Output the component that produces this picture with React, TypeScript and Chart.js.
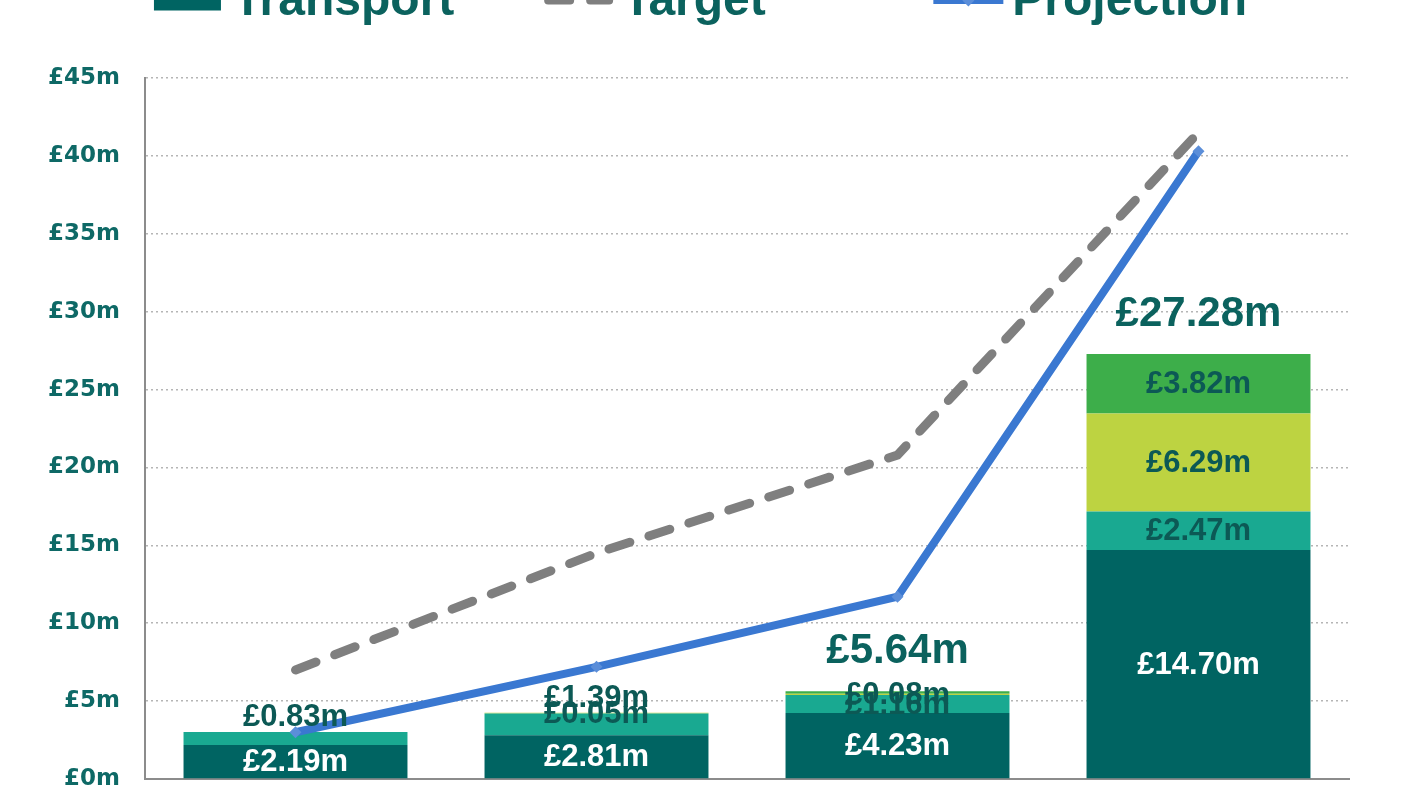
import React, { useEffect, useRef } from 'react';
import { Chart, registerables } from 'chart.js';

Chart.register(...registerables);

// ---------- data ----------
const categories = ['2021/22', '2022/23', '2023/24', '2024/25'];
const transport = [2.19, 2.81, 4.23, 14.7];
const series2 = [0.83, 1.39, 1.16, 2.47];
const series3 = [0, 0.05, 0.08, 6.29];
const series4 = [0, 0, 0.17, 3.82];
const target = [7.0, 14.5, 20.8, 41.5];
const projection = [3.0, 7.2, 11.7, 40.3];
const yTickValues = [0, 5, 10, 15, 20, 25, 30, 35, 40, 45];
const showTotal = [false, false, true, true];
const legendLabels = ['Transport', 'Target', 'Projection'];

// label placement per segment (style, not data)
const place1 = ['center', 'center', 'center', 'center'];
const place2 = ['above', 'above', 'center', 'center'];
const place3 = ['center', 'center', 'center', 'center'];
const place4 = ['none', 'none', 'none', 'center'];

const TEXT_TEAL = '#0b625e';
const LABEL_DARK = '#0c5955';
const FONT = '"Liberation Sans", Arial, sans-serif';

const fmt = (v: number) => '£' + v.toFixed(2) + 'm';

const labelPlugin = {
  id: 'segLabels',
  afterDraw(chart: any) {
    const ctx = chart.ctx;
    ctx.save();
    ctx.textAlign = 'center';
    ctx.textBaseline = 'middle';
    chart.data.datasets.forEach((ds: any, di: number) => {
      if (ds.type !== 'bar') return;
      const meta = chart.getDatasetMeta(di);
      meta.data.forEach((el: any, i: number) => {
        const v = ds.data[i];
        const mode = ds.labelPlace ? ds.labelPlace[i] : 'center';
        if (!v || mode === 'none') return;
        const p = el.getProps(['x', 'y', 'base'], true);
        const top = Math.min(p.y, p.base);
        const bottom = Math.max(p.y, p.base);
        const ly = mode === 'above' ? top - 15 : (top + bottom) / 2 + 1;
        ctx.font = 'bold 31px ' + FONT;
        ctx.fillStyle = ds.labelColor;
        ctx.fillText(fmt(v), p.x, ly);
      });
    });
    // totals
    const yScale = chart.scales.y;
    const firstMeta = chart.getDatasetMeta(0);
    categories.forEach((_, i) => {
      if (!showTotal[i]) return;
      const total = transport[i] + series2[i] + series3[i] + series4[i];
      const yTop = yScale.getPixelForValue(total);
      const x = firstMeta.data[i].x;
      ctx.font = 'bold 42px ' + FONT;
      ctx.fillStyle = TEXT_TEAL;
      ctx.fillText(fmt(total), x, yTop - 40);
    });
    ctx.restore();
  },
};

const legendPlugin = {
  id: 'topLegend',
  afterDraw(chart: any) {
    const ctx = chart.ctx;
    ctx.save();
    ctx.font = 'bold 48px ' + FONT;
    const iconW = 70;
    const gap = 9;
    const baseline = 54.5;
    const iconY = 40.5;
    const items = legendLabels.map((l) => {
      const ds = chart.data.datasets.find((d: any) => d.label === l);
      return { ds, label: l, w: iconW + gap + ctx.measureText(l).width };
    });
    const maxW = Math.max(...items.map((it) => it.w));
    const colW = maxW + 76;
    const totalW = colW * (items.length - 1) + items[items.length - 1].w;
    let x = chart.width / 2 - totalW / 2;
    items.forEach((it) => {
      const ds = it.ds;
      if (ds.type === 'bar') {
        ctx.fillStyle = ds.backgroundColor;
        ctx.fillRect(x, iconY - 14, iconW - 3, 24);
      } else {
        ctx.save();
        ctx.strokeStyle = ds.borderColor;
        ctx.lineWidth = ds.borderWidth - 1;
        ctx.lineCap = ds.borderCapStyle || 'butt';
        if (ds.borderDash) ctx.setLineDash(ds.borderDash);
        const inset = ds.borderCapStyle === 'round' ? ds.borderWidth / 2 : 0;
        ctx.beginPath();
        ctx.moveTo(x + inset, iconY);
        ctx.lineTo(x + iconW - inset, iconY);
        ctx.stroke();
        ctx.restore();
        if (ds.pointRadius) {
          const cx = x + iconW / 2;
          const r = ds.pointRadius;
          ctx.fillStyle = ds.pointBackgroundColor;
          ctx.beginPath();
          ctx.moveTo(cx, iconY - r);
          ctx.lineTo(cx + r, iconY);
          ctx.lineTo(cx, iconY + r);
          ctx.lineTo(cx - r, iconY);
          ctx.closePath();
          ctx.fill();
        }
      }
      ctx.fillStyle = TEXT_TEAL;
      ctx.textAlign = 'left';
      ctx.textBaseline = 'alphabetic';
      ctx.fillText(it.label, x + iconW + gap, baseline);
      x += colW;
    });
    ctx.restore();
  },
};

export default function App() {
  const canvasRef = useRef<HTMLCanvasElement | null>(null);

  useEffect(() => {
    if (!canvasRef.current) return;
    const chart = new Chart(canvasRef.current, {
      type: 'bar',
      data: {
        labels: categories,
        datasets: [
          {
            type: 'bar',
            label: 'Transport',
            data: transport,
            backgroundColor: '#006462',
            labelColor: '#ffffff',
            labelPlace: place1,
            stack: 'bars',
            order: 1,
          } as any,
          {
            type: 'bar',
            label: 'Active travel',
            data: series2,
            backgroundColor: '#19a991',
            labelColor: LABEL_DARK,
            labelPlace: place2,
            stack: 'bars',
            order: 1,
          } as any,
          {
            type: 'bar',
            label: 'Public transport',
            data: series3,
            backgroundColor: '#bdd341',
            labelColor: LABEL_DARK,
            labelPlace: place3,
            stack: 'bars',
            order: 1,
          } as any,
          {
            type: 'bar',
            label: 'Other',
            data: series4,
            backgroundColor: '#3dae4a',
            labelColor: LABEL_DARK,
            labelPlace: place4,
            stack: 'bars',
            order: 1,
          } as any,
          {
            type: 'line',
            label: 'Target',
            data: target,
            borderColor: '#7f7f7f',
            borderWidth: 9,
            borderDash: [22, 20],
            borderCapStyle: 'round',
            pointRadius: 0,
            tension: 0,
            fill: false,
            stack: 'target',
            order: 0,
          } as any,
          {
            type: 'line',
            label: 'Projection',
            data: projection,
            borderColor: '#3a78d1',
            borderWidth: 8,
            pointStyle: 'rectRot',
            pointRadius: 6,
            pointBackgroundColor: '#5b8ed9',
            pointBorderWidth: 0,
            tension: 0,
            fill: false,
            stack: 'projection',
            order: 0,
          } as any,
        ],
      },
      options: {
        animation: false,
        responsive: true,
        maintainAspectRatio: false,
        layout: { padding: { top: 118, left: 0, right: 52, bottom: 21 } },
        datasets: {
          bar: { barPercentage: 0.744, categoryPercentage: 1 },
        },
        plugins: {
          legend: { display: false },
          tooltip: { enabled: false },
        },
        scales: {
          x: {
            stacked: true,
            grid: { display: false, drawTicks: false },
            border: { display: true, color: '#8c8c8c', width: 2 },
            ticks: {
              color: TEXT_TEAL,
              font: { family: FONT, size: 24, weight: 'bold' },
              padding: 12,
            },
            afterFit: (scale: any) => {
              scale.height = 60;
            },
          },
          y: {
            stacked: true,
            min: 0,
            max: 45,
            afterBuildTicks: (scale: any) => {
              scale.ticks = yTickValues.map((v) => ({ value: v }));
            },
            grid: { color: '#b5b5b5', lineWidth: 1.5, drawTicks: false },
            border: { display: true, color: '#8c8c8c', width: 2, dash: [2, 3] },
            ticks: {
              color: '#0e6966',
              font: { family: '"DejaVu Sans", Verdana, sans-serif', size: 23, weight: 'bold' },
              padding: 25,
              callback: (v: any) => '£' + v + 'm',
            },
            afterFit: (scale: any) => {
              scale.width = 145;
            },
          },
        },
      } as any,
      plugins: [labelPlugin, legendPlugin],
    });
    return () => chart.destroy();
  }, []);

  return (
    <div
      style={{
        position: 'fixed',
        left: 0,
        top: 0,
        width: 1401,
        height: 790,
        overflow: 'hidden',
        background: '#ffffff',
      }}
    >
      <div style={{ position: 'absolute', left: 0, top: -40, width: 1401, height: 900 }}>
        <canvas ref={canvasRef} />
      </div>
    </div>
  );
}
